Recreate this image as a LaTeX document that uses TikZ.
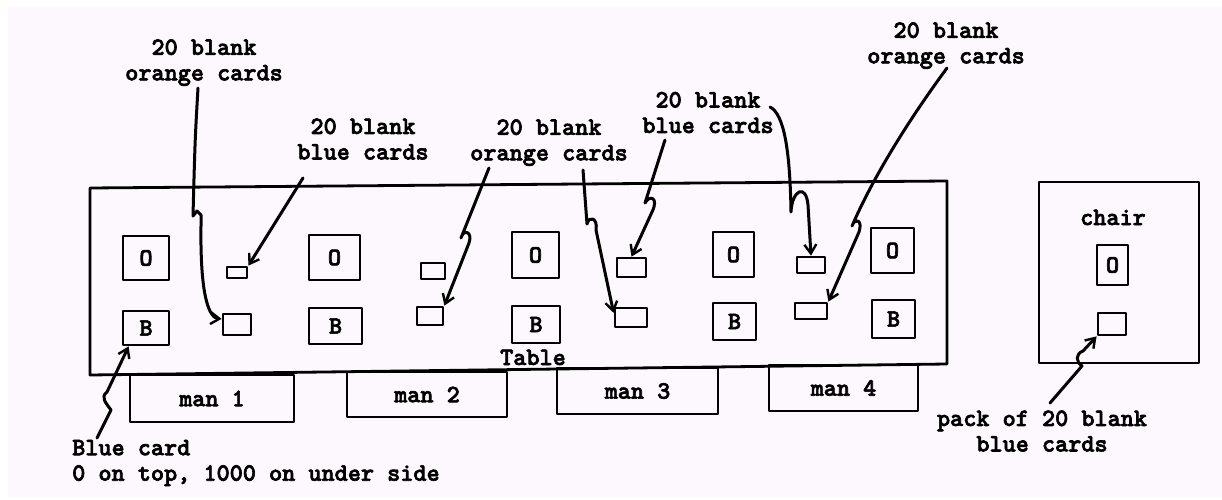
\documentclass[tikz,border=0pt]{standalone}
\usepackage{fontspec}
\newfontfamily\twfont{lmmonolt10-bold.otf}[FakeBold=2.5]
\usetikzlibrary{arrows.meta}
\definecolor{paper}{RGB}{253,248,253}
\begin{document}
\begin{tikzpicture}[x=1pt,y=-1pt,
  line join=round, line cap=round,
  tw/.style={font=\twfont\fontsize{25}{25.5}\selectfont},
  txt/.style={tw, inner sep=0pt, align=center, text=black},
  tabline/.style={draw, line width=2.8pt},
  manbox/.style={tw, draw, line width=2.8pt, inner sep=0pt},
  card/.style={tw, draw, line width=2.8pt, inner sep=0pt},
  pile/.style={draw, line width=2.8pt, inner sep=0pt},
  arr/.style={line width=3pt, -{Straight Barb[length=9pt,width=12pt,line width=2.4pt]}}]
\useasboundingbox (0,0) rectangle (1222,500);
\fill[white] (0,0) rectangle (1222,500);
\fill[paper] (8,7) rectangle (1222,497);

% table
\draw[tabline] (90,188) -- (947,181) -- (947,364) -- (90,375) -- cycle;
\node[txt, anchor=base] (table) at (533,365) {Table};

% men
\node[manbox, minimum width=164pt, minimum height=47pt] (man1) at (212,398.5) {man 1\hspace{24pt}};
\node[manbox, minimum width=160pt, minimum height=45pt] (man2) at (427,394.5) {man 2\hspace{28pt}};
\node[manbox, minimum width=161pt, minimum height=46pt] (man3) at (637.5,391) {man 3\hspace{24pt}};
\node[manbox, minimum width=149pt, minimum height=46pt] (man4) at (843.5,388) {man 4\hspace{12pt}};

% O and B cards
\node[card, minimum width=46pt, minimum height=44pt] (o1) at (146,258) {O};
\node[card, minimum width=46pt, minimum height=34pt] (b1) at (146,328) {B};
\node[card, minimum width=51pt, minimum height=45pt] (o2) at (334.5,257.5) {O};
\node[card, minimum width=53pt, minimum height=36pt] (b2) at (335.5,326) {B};
\node[card, minimum width=47pt, minimum height=46pt] (o3) at (535.5,255) {O};
\node[card, minimum width=48pt, minimum height=37pt] (b3) at (536,324.5) {B};
\node[card, minimum width=41pt, minimum height=45pt] (o4) at (733.5,254.5) {O};
\node[card, minimum width=43pt, minimum height=37pt] (b4) at (734.5,321.5) {B};
\node[card, minimum width=43pt, minimum height=45pt] (o5) at (892.5,250.5) {O};
\node[card, minimum width=43pt, minimum height=38pt] (b5) at (893.5,319) {B};

% blank piles
\node[pile, minimum width=20pt, minimum height=11pt] (p1t) at (237,272.5) {};
\node[pile, minimum width=28pt, minimum height=21pt] (p1b) at (237,324.5) {};
\node[pile, minimum width=24pt, minimum height=16pt] (p2t) at (433,271) {};
\node[pile, minimum width=26pt, minimum height=18pt] (p2b) at (430,316) {};
\node[pile, minimum width=29pt, minimum height=19pt] (p3t) at (631.5,267.5) {};
\node[pile, minimum width=32pt, minimum height=19pt] (p3b) at (631,317.5) {};
\node[pile, minimum width=28pt, minimum height=16pt] (p4t) at (811,265) {};
\node[pile, minimum width=32pt, minimum height=16pt] (p4b) at (811,311) {};

% chair
\draw[tabline] (1039,182) rectangle (1199,363);
\node[txt, anchor=base] (chair) at (1113,225) {chair};
\node[card, minimum width=31pt, minimum height=40pt] (co) at (1112.5,265) {O};
\node[pile, minimum width=28pt, minimum height=22pt] (pack) at (1112,324) {};

% labels
\node[txt] (l1) at (204,62.6) {20 blank\\orange cards};
\node[txt] (l2) at (363,139) {20 blank\\blue cards};
\node[txt] (l3) at (549,142.6) {20 blank\\orange cards};
\node[txt] (l4) at (708,112.5) {20 blank\\blue cards};
\node[txt] (l5) at (946,45.6) {20 blank\\orange cards};
\node[txt, align=left, anchor=west] (l6) at (72,463) {Blue card\\0 on top, 1000 on under side};
\node[txt] (l7) at (1042,431) {pack of 20 blank\\blue cards};

% arrows
\coordinate (s1) at (198,88);
\coordinate (s2) at (303,178);
\coordinate (s3) at (489,168);
\coordinate (s4) at (583,170);
\coordinate (s5) at (665,140);
\coordinate (s6) at (770,107);
\coordinate (s7) at (947,68);
\coordinate (s8) at (97,438);
\coordinate (s9) at (1050,403);

\draw[arr] (s1) .. controls (195,140) .. (193,216) -- (197,211) -- (201,215) -- (201,226)
  .. controls (200,300) and (210,318) .. (p1b.160);
\draw[arr] (s2) -- (p1t.north east);
\draw[arr] (s3) -- (461,238) .. controls (463,229) and (473,231) .. (469,243) -- (p2b.north east);
\draw[arr] (s4) -- (587,224) .. controls (589,215) and (598,218) .. (596,230) -- (p3b.165);
\draw[arr] (s5) -- (645,203) .. controls (650,194) and (659,198) .. (652,212) -- (p3t.north);
\draw[arr] (s6) .. controls (784,114) and (790,150) .. (791,212)
  .. controls (792,190) and (806,183) .. (808,205) -- (p4t.north);
\draw[arr] (s7) .. controls (905,125) and (872,180) .. (852,226)
  .. controls (855,217) and (863,220) .. (859,232) -- (p4b.north east);
\draw[arr] (s8) -- (111,410) .. controls (106,403) and (100,397) .. (107,392) -- ([xshift=7pt]b1.south west);
\draw[arr] (s9) .. controls (1066,385) .. (1082,366) .. controls (1076,362) and (1075,354) .. (1083,351) -- (pack.south west);
\end{tikzpicture}
\end{document}
